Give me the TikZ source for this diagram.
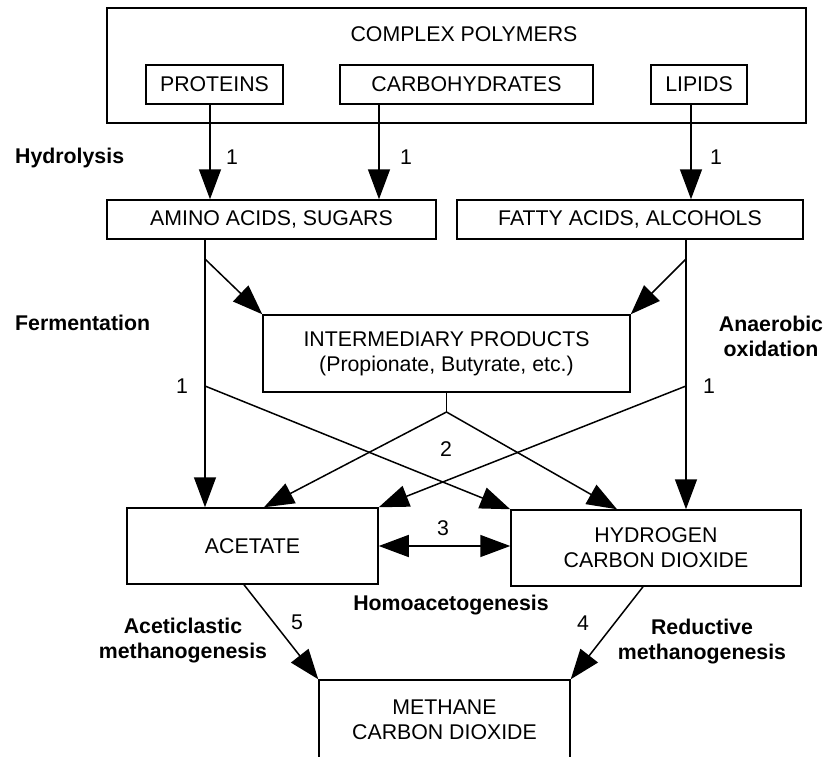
\documentclass[tikz,border=0pt]{standalone}
\usepackage{fontspec}
\setmainfont{Liberation Sans}
\usetikzlibrary{arrows.meta}
\newcommand{\diagfont}{\fontsize{21.3}{25}\selectfont}
\tikzset{
  box/.style={draw,line width=1.5pt,inner sep=0pt,align=center},
  flow/.style={line width=1.5pt,-{Triangle[length=30pt,width=22pt]}},
  flowboth/.style={line width=1.5pt,{Triangle[length=30pt,width=22pt]}-{Triangle[length=30pt,width=22pt]}},
  stage/.style={font=\diagfont\bfseries,align=center,inner sep=0pt},
  num/.style={inner sep=0pt},
}
\begin{document}
\begin{tikzpicture}[x=1pt,y=-1pt,font=\diagfont]
	\useasboundingbox (0,0) rectangle (825,756);
	\clip (0,0) rectangle (825,756);
	% boxes
	\node[box,minimum width=699pt,minimum height=115pt] (poly) at (456.5,65.5) {};
	\node[inner sep=0pt] (polyname) at (464,34) {COMPLEX POLYMERS};
	\node[box,minimum width=137pt,minimum height=39pt] (prot) at (214.5,84.5) {PROTEINS};
	\node[box,minimum width=253pt,minimum height=39pt] (carb) at (466.5,84.5) {CARBOHYDRATES};
	\node[box,minimum width=96pt,minimum height=39pt] (lip) at (699,84.5) {LIPIDS};
	\node[box,minimum width=329pt,minimum height=39pt] (amino) at (271.5,219.5) {AMINO ACIDS, SUGARS};
	\node[box,minimum width=346pt,minimum height=39pt] (fatty) at (630,219.5) {FATTY ACIDS, ALCOHOLS};
	\node[box,minimum width=367pt,minimum height=77pt] (inter) at (446.5,353.5) {INTERMEDIARY PRODUCTS\\(Propionate, Butyrate, etc.)};
	\node[box,minimum width=251pt,minimum height=76pt] (acet) at (252.5,546) {ACETATE};
	\node[box,minimum width=290pt,minimum height=76pt] (hydro) at (656,548) {HYDROGEN\\CARBON DIOXIDE};
	\node[box,minimum width=251pt,minimum height=80pt] (meth) at (444.5,720) {METHANE\\CARBON DIOXIDE};
	% columns and branch points
	\coordinate (colA) at (210,0);
	\coordinate (colB) at (379,0);
	\coordinate (colC) at (691,0);
	\coordinate (colL) at (205,0);
	\coordinate (colR) at (686,0);
	\coordinate (fermL) at (205,259);
	\coordinate (fermR) at (686,259);
	\coordinate (oxL) at (205,386);
	\coordinate (oxR) at (686,386);
	\coordinate (split) at (446.5,412);
	% hydrolysis
	\draw[flow] (prot.south -| colA) -- (amino.north -| colA);
	\draw[flow] (carb.south -| colB) -- (amino.north -| colB);
	\draw[flow] (lip.south -| colC) -- (fatty.north -| colC);
	% fermentation and oxidation
	\draw[flow] (amino.south -| colL) -- (acet.north -| colL);
	\draw[flow] (fatty.south -| colR) -- (hydro.north -| colR);
	\draw[flow] (fermL) -- (inter.north west);
	\draw[flow] (fermR) -- (inter.north east);
	\draw[flow] (oxL) -- (hydro.north west);
	\draw[flow] (oxR) -- (acet.north east);
	\draw[line width=1.5pt] (inter.south) -- (split);
	\draw[flow] (split) -- (acet.north -| 264,0);
	\draw[flow] (split) -- (hydro.north -| 617,0);
	% homoacetogenesis and methanogenesis
	\draw[flowboth] (acet.east) -- (hydro.west |- acet.east);
	\draw[flow] (acet.south -| 244,0) -- (meth.north west);
	\draw[flow] (hydro.south -| 643,0) -- (meth.north east);
	% numbers
	\node[num] (n1a) at (232,157) {1};
	\node[num] (n1b) at (406,157) {1};
	\node[num] (n1c) at (716,157) {1};
	\node[num] (n1d) at (182,386) {1};
	\node[num] (n1e) at (709,386) {1};
	\node[num] (n2) at (446,449) {2};
	\node[num] (n3) at (443,528) {3};
	\node[num] (n5) at (297,622) {5};
	\node[num] (n4) at (583,623) {4};
	% stages
	\node[stage,anchor=west] (hydrolysis) at (15,158) {Hydrolysis};
	\node[stage,anchor=west] (fermentation) at (15,323) {Fermentation};
	\node[stage] (anaerobic) at (771,336) {Anaerobic\\oxidation};
	\node[stage] (homo) at (451,605) {Homoacetogenesis};
	\node[stage] (aceticlastic) at (183,641) {Aceticlastic\\methanogenesis};
	\node[stage] (reductive) at (702,642) {Reductive\\methanogenesis};
\end{tikzpicture}
\end{document}
